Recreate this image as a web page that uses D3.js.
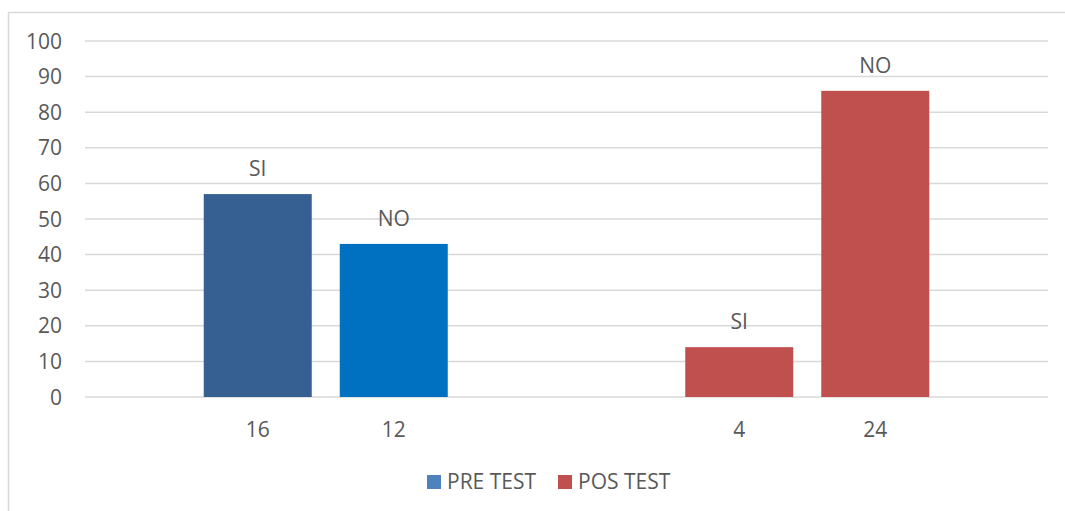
<!DOCTYPE html>
<html>
<head>
<meta charset="utf-8">
<script src="https://cdn.jsdelivr.net/npm/d3@7"></script>
<style>
  body { margin: 0; background: #fff; }
  svg text { font-family: "Open Sans", sans-serif; fill: #595959; }
</style>
</head>
<body>
<div id="showBox"></div>
<script>
// data
const groups = ["PRE TEST", "POS TEST"]
const categories = ["16", "12", "4", "24"]
const answers = ["SI", "NO", "SI", "NO"]
const values = [57, 43, 14, 86]
const barGroup = ["PRE TEST", "PRE TEST", "POS TEST", "POS TEST"]
const yTicks = [0, 10, 20, 30, 40, 50, 60, 70, 80, 90, 100]

const barColors = ["#376092", "#0070C0", "#C0504D", "#C0504D"]
const legendColors = ["#4F81BD", "#C0504D"]

const width = 1065, height = 511
const margin = {left: 85, right: 17, top: 41, bottom: 114}
const fontSize = 21

const svg = d3.select("#showBox").append("svg")
    .attr("width", width)
    .attr("height", height)

// chart frame
svg.append("rect")
    .attr("x", 8.5).attr("y", 12.5)
    .attr("width", width + 20).attr("height", height + 20)
    .attr("fill", "none")
    .attr("stroke", "#D9D9D9")
    .attr("stroke-width", 1.5)

const x0 = d3.scaleBand()
    .domain(groups)
    .range([margin.left, width - margin.right])

const x1 = d3.scaleBand()
    .domain([0, 1])
    .range([0, x0.bandwidth()])
    .paddingInner(0.206)
    .paddingOuter(0.873)

const y = d3.scaleLinear()
    .domain([0, 100])
    .range([height - margin.bottom, margin.top])

const data = values.map((v, i) => ({
    value: v, cat: categories[i], answer: answers[i],
    group: barGroup[i], slot: i % 2, color: barColors[i]
}))
const bx = d => x0(d.group) + x1(d.slot)

// gridlines
svg.append("g")
    .selectAll("line")
    .data(yTicks)
    .join("line")
    .attr("x1", margin.left)
    .attr("x2", width - margin.right)
    .attr("y1", d => y(d))
    .attr("y2", d => y(d))
    .attr("stroke", "#D9D9D9")
    .attr("stroke-width", 1.5)

// y tick labels
svg.append("g")
    .attr("font-size", fontSize)
    .attr("text-anchor", "end")
    .selectAll("text")
    .data(yTicks)
    .join("text")
    .attr("x", 62)
    .attr("y", d => y(d))
    .attr("dy", "0.36em")
    .text(d => d)

// bars
svg.append("g")
    .selectAll("rect")
    .data(data)
    .join("rect")
    .attr("x", bx)
    .attr("y", d => y(d.value))
    .attr("width", x1.bandwidth())
    .attr("height", d => y(0) - y(d.value))
    .attr("fill", d => d.color)

// answer labels over the bars
svg.append("g")
    .attr("font-size", fontSize)
    .attr("text-anchor", "middle")
    .selectAll("text")
    .data(data)
    .join("text")
    .attr("x", d => bx(d) + x1.bandwidth() / 2)
    .attr("y", d => y(d.value) - 18)
    .text(d => d.answer)

// category labels under the axis
svg.append("g")
    .attr("font-size", fontSize)
    .attr("text-anchor", "middle")
    .selectAll("text")
    .data(data)
    .join("text")
    .attr("x", d => bx(d) + x1.bandwidth() / 2)
    .attr("y", y(0) + 40)
    .text(d => d.cat)

// legend
const legend = svg.append("g").attr("font-size", fontSize)
const legX = [427, 558]
groups.forEach((g, i) => {
    legend.append("rect")
        .attr("x", legX[i]).attr("y", 475)
        .attr("width", 14).attr("height", 14)
        .attr("fill", legendColors[i])
    legend.append("text")
        .attr("x", legX[i] + 20).attr("y", 489)
        .text(g)
})
</script>
</body>
</html>
